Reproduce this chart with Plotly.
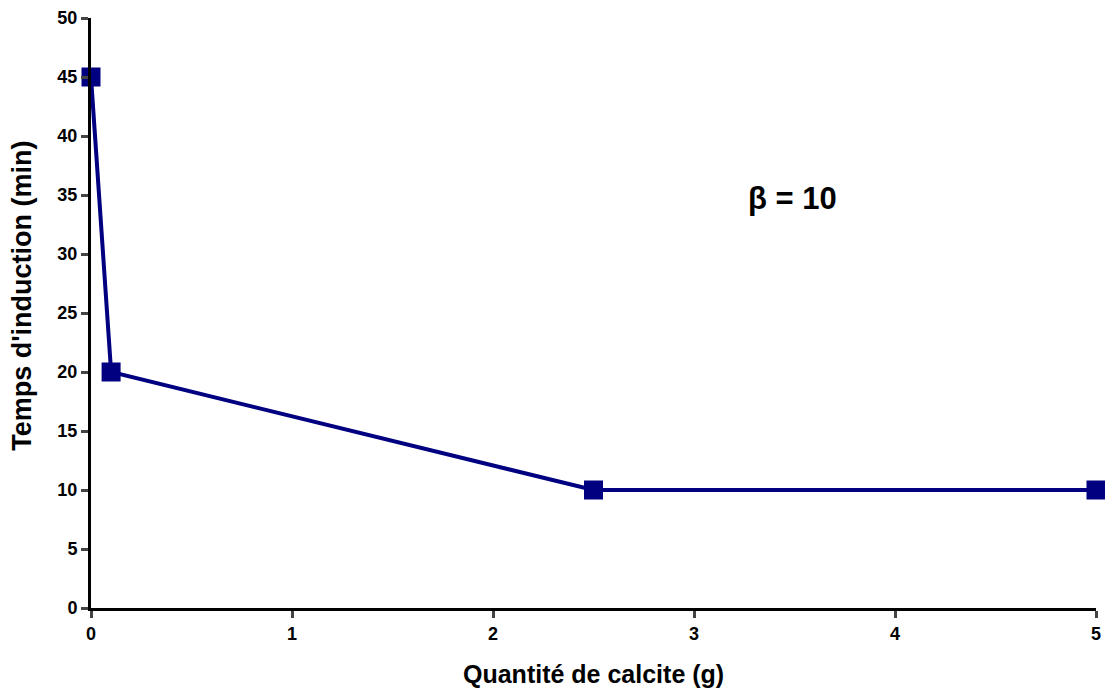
import plotly.graph_objects as go

calcite_g = [0, 0.1, 2.5, 5]
induction_min = [45, 20, 10, 10]
x_ticks = [0, 1, 2, 3, 4, 5]
y_ticks = [0, 5, 10, 15, 20, 25, 30, 35, 40, 45, 50]

fig = go.Figure()
fig.add_trace(go.Scatter(
    x=calcite_g, y=induction_min, mode="lines+markers",
    line=dict(color="#000080", width=4),
    marker=dict(symbol="square", size=19, color="#000080"),
    cliponaxis=False, showlegend=False,
))

fam = "Liberation Sans, Arial, sans-serif"
fig.update_layout(
    width=1105, height=688,
    margin=dict(l=91, r=9, t=18, b=80),
    plot_bgcolor="white", paper_bgcolor="white",
    font=dict(family=fam, color="black"),
    xaxis=dict(
        range=[0, 5], tickvals=x_ticks, ticktext=[f"<b>{v}</b>" for v in x_ticks],
        ticks="outside", ticklen=7, tickwidth=3,
        showline=True, linewidth=3, linecolor="black", showgrid=False, zeroline=False,
        tickfont=dict(size=18, family=fam), automargin=False,
    ),
    yaxis=dict(
        range=[0, 50], tickvals=y_ticks, ticktext=[f"<b>{v}</b>" for v in y_ticks],
        ticks="outside", ticklen=7, tickwidth=3,
        showline=True, linewidth=3, linecolor="black", showgrid=False, zeroline=False,
        tickfont=dict(size=18, family=fam), automargin=False,
    ),
    annotations=[
        dict(x=3.49, y=34.7, xref="x", yref="y", text="<b>β = 10</b>", showarrow=False,
             font=dict(size=31, family=fam)),
        dict(x=0.5, y=-0.112, xref="paper", yref="paper", text="<b>Quantité de calcite (g)</b>",
             showarrow=False, xanchor="center", yanchor="middle", font=dict(size=25, family=fam)),
        dict(x=-0.0687, y=0.529, xref="paper", yref="paper", text="<b>Temps d'induction (min)</b>",
             showarrow=False, textangle=-90, xanchor="center", yanchor="middle",
             font=dict(size=27, family=fam)),
    ],
)

fig.write_html("out.html", config={"displayModeBar": False},
               post_script="document.body.style.margin='0';document.body.style.overflow='hidden';")
